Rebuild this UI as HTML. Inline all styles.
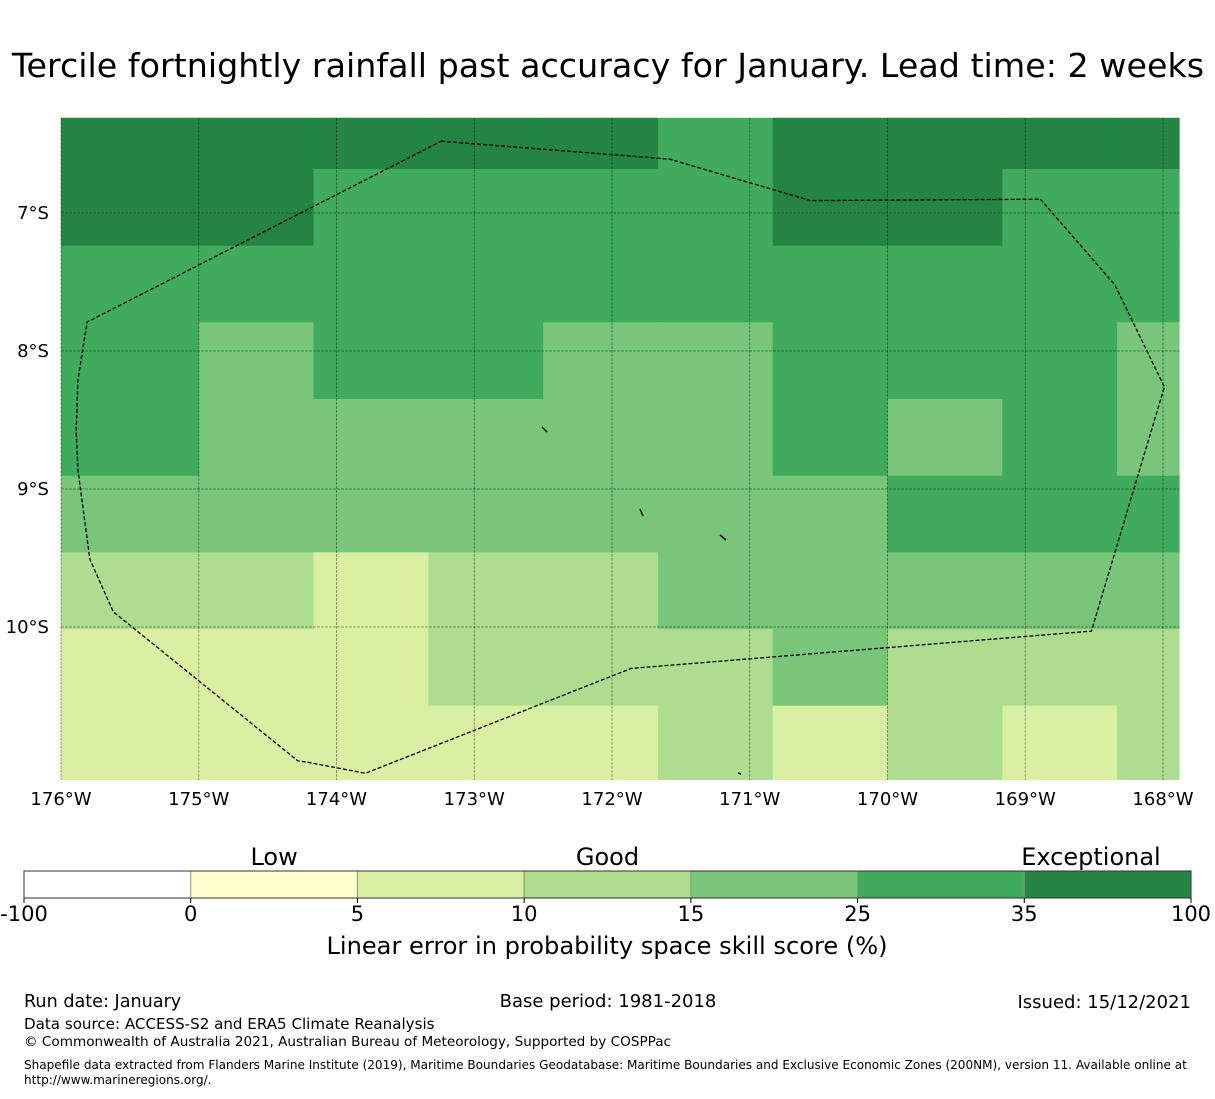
<!DOCTYPE html>
<html><head><meta charset="utf-8">
<style>
body{margin:0;background:#fff;width:1215px;height:1095px;overflow:hidden;font-family:"DejaVu Sans","Liberation Sans",sans-serif;}
svg text{font-family:"DejaVu Sans","Liberation Sans",sans-serif;}
</style></head>
<body>
<svg id="chart" width="1215" height="1095" xmlns="http://www.w3.org/2000/svg">
<text x="608" y="77" font-size="33.3" text-anchor="middle">Tercile fortnightly rainfall past accuracy for January. Lead time: 2 weeks</text>
<g id="cells"></g>
<g id="grid"></g>
<g id="eez"></g>
<g id="axes"></g>
<g id="cbar"></g>
<text x="607" y="954" font-size="24.1" text-anchor="middle">Linear error in probability space skill score (%)</text>
<text x="24" y="1007" font-size="17.6">Run date: January</text>
<text x="608" y="1007" font-size="18" text-anchor="middle">Base period: 1981-2018</text>
<text x="1191" y="1008" font-size="18" text-anchor="end">Issued: 15/12/2021</text>
<text x="24" y="1029" font-size="15.1">Data source: ACCESS-S2 and ERA5 Climate Reanalysis</text>
<text x="24" y="1046" font-size="13.6">© Commonwealth of Australia 2021, Australian Bureau of Meteorology, Supported by COSPPac</text>
<text x="24" y="1069" font-size="12.06">Shapefile data extracted from Flanders Marine Institute (2019), Maritime Boundaries Geodatabase: Maritime Boundaries and Exclusive Economic Zones (200NM), version 11. Available online at</text>
<text x="24" y="1084" font-size="12.06">http://www.marineregions.org/.</text>
</svg>
<script>
const lonEdges=[-176,-175,-174.1667,-173.3333,-172.5,-171.6667,-170.8333,-170,-169.1667,-168.3333,-167.883];
const latEdges=[-6.31,-6.681,-7.237,-7.792,-8.348,-8.904,-9.459,-10.015,-10.57,-11.11];
const skillClass=[
[7,7,7,7,7,6,7,7,7,7],
[7,7,6,6,6,6,7,7,6,6],
[6,6,6,6,6,6,6,6,6,6],
[6,5,6,6,5,5,6,6,6,5],
[6,5,5,5,5,5,6,5,6,5],
[5,5,5,5,5,5,5,6,6,6],
[4,4,3,4,4,5,5,5,5,5],
[3,3,3,4,4,4,5,4,4,4],
[3,3,3,3,3,4,3,4,3,4]];
const classColors=["#ffffff","#ffffff","#ffffcc","#d9f0a3","#addd8e","#78c679","#41ab5d","#238443"];
const lonTicks=[-176,-175,-174,-173,-172,-171,-170,-169,-168];
const latTicks=[-7,-8,-9,-10];
const cbarTicks=["-100","0","5","10","15","25","35","100"];
const cbarGroups=[["Low",1.5],["Good",3.5],["Exceptional",6.4]];
const eezLon=[-173.24,-171.58,-170.56,-168.89,-168.35,-167.99,-168.52,-171.86,-173.79,-174.21,-174.28,-175.62,-175.79,-175.877,-175.89,-175.877,-175.81];
const eezLat=[-6.48,-6.61,-6.91,-6.90,-7.52,-8.26,-10.03,-10.30,-11.06,-10.98,-10.97,-9.89,-9.51,-8.86,-8.58,-8.21,-7.79];

const NS="http://www.w3.org/2000/svg";
const X=lon=>61+(lon+176)*137.75;
const Y=lat=>213+(-7-lat)*138;
const MAPB=780;
function mk(tag,attrs,parent){const e=document.createElementNS(NS,tag);for(const k in attrs)e.setAttribute(k,attrs[k]);parent.appendChild(e);return e;}
const cells=document.getElementById('cells');
skillClass.forEach((row,r)=>row.forEach((c,ci)=>{
  const x0=X(lonEdges[ci]),x1=X(lonEdges[ci+1]),y0=Y(latEdges[r]),y1=Math.min(MAPB,Y(latEdges[r+1]));
  const e=mk('rect',{x:x0,y:y0,width:x1-x0+0.5,height:y1-y0+(y1<MAPB?0.5:0),fill:classColors[c]},cells);
  
  
}));
const grid=document.getElementById('grid');
const axes=document.getElementById('axes');
lonTicks.forEach(l=>{
  const e=mk('line',{x1:X(l),x2:X(l),y1:118,y2:MAPB,stroke:'#000','stroke-opacity':0.45,'stroke-width':0.8,'stroke-dasharray':'3,1'},grid);
  
  
  const t=mk('text',{x:X(l),y:805,'font-size':18,'text-anchor':'middle'},axes);
  t.textContent=(-l)+'°W';
  
  
});
latTicks.forEach(l=>{
  const e=mk('line',{x1:61,x2:1179,y1:Y(l),y2:Y(l),stroke:'#000','stroke-opacity':0.45,'stroke-width':0.8,'stroke-dasharray':'3,1'},grid);
  
  
  const t=mk('text',{x:49,y:Y(l)+6,'font-size':18,'text-anchor':'end'},axes);
  t.textContent=(-l)+'°S';
  
  
});
const eez=document.getElementById('eez');
let d=eezLon.map((l,i)=>(i?'L':'M')+X(l).toFixed(1)+','+Y(eezLat[i]).toFixed(1)).join('')+'Z';
const p=mk('path',{d:d,fill:'none',stroke:'#000','stroke-width':1.3,'stroke-dasharray':'4,2'},eez);


[[542,427,547,432],[640,509,643,516],[720,535,726,540],[738,773,741,774]].forEach(s=>{
  const e=mk('line',{x1:s[0],y1:s[1],x2:s[2],y2:s[3],stroke:'#000','stroke-width':1.5},eez);
  
  
});
const cb=document.getElementById('cbar');
const cx0=24,cx1=1191,segW=(cx1-cx0)/7;
for(let i=0;i<7;i++){
  const e=mk('rect',{x:cx0+i*segW,y:871,width:segW,height:27,fill:classColors[i+1],stroke:i>0?'#8a9a70':'none','stroke-width':1},cb);
  
  
}
mk('rect',{x:cx0,y:871,width:cx1-cx0,height:27,fill:'none',stroke:'#333','stroke-width':1},cb);
cbarTicks.forEach((t,i)=>{
  mk('line',{x1:cx0+i*segW,x2:cx0+i*segW,y1:898,y2:903,stroke:'#000'},cb);
  const e=mk('text',{x:cx0+i*segW,y:921,'font-size':21,'text-anchor':'middle'},cb);
  e.textContent=t;
  
  
});
cbarGroups.forEach(g=>{
  const e=mk('text',{x:cx0+g[1]*segW,y:865,'font-size':24,'text-anchor':'middle'},cb);
  e.textContent=g[0];
  
  
});
</script>
</body></html>
